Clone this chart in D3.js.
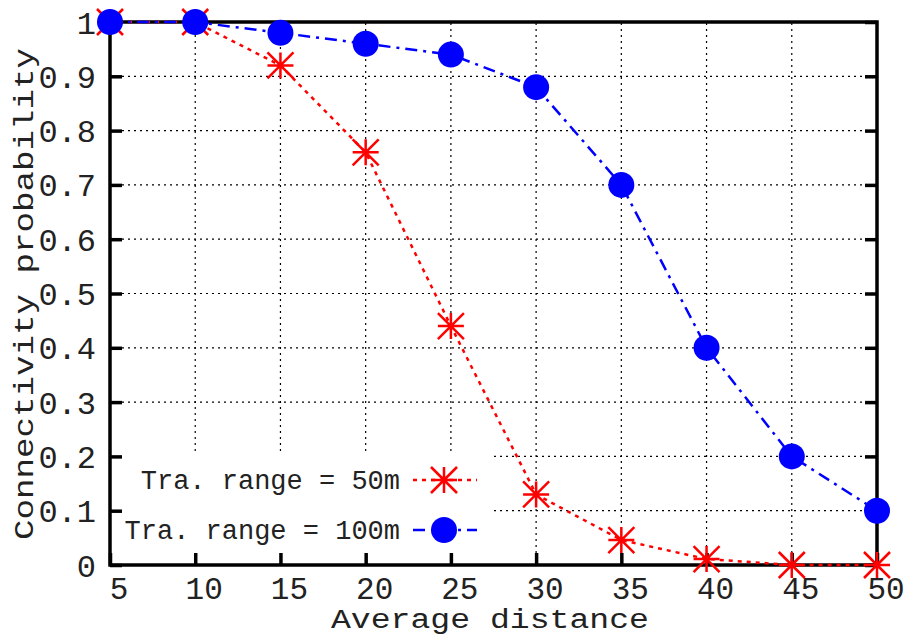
<!DOCTYPE html>
<html><head><meta charset="utf-8">
<script src="https://cdn.jsdelivr.net/npm/d3@7"></script>
<style>html,body{margin:0;padding:0;background:#fff;overflow:hidden}</style>
</head><body>
<svg id="chart" width="908" height="635"></svg>
<script>
const distances = [5, 10, 15, 20, 25, 30, 35, 40, 45, 50];
const range50 = [1, 1, 0.92, 0.76, 0.44, 0.13, 0.046, 0.011, 0, 0];
const range100 = [1, 1, 0.98, 0.96, 0.94, 0.88, 0.7, 0.4, 0.2, 0.1];
const xTicks = [5, 10, 15, 20, 25, 30, 35, 40, 45, 50];
const yTicks = [0, 0.1, 0.2, 0.3, 0.4, 0.5, 0.6, 0.7, 0.8, 0.9, 1];
const yTickLabels = ["0", "0.1", "0.2", "0.3", "0.4", "0.5", "0.6", "0.7", "0.8", "0.9", "1"];
const seriesNames = ["Tra. range = 50m", "Tra. range = 100m"];

const svg = d3.select("#chart");
const L = 110, R = 877, T = 22, B = 565;
const x = d3.scaleLinear().domain([5, 50]).range([L, R]);
const y = d3.scaleLinear().domain([0, 1]).range([B, T]);
const font = "'Liberation Mono', 'Courier New', monospace";

// grid
const grid = svg.append("g");
grid.selectAll(".vg").data(xTicks.slice(1, -1)).enter().append("line")
  .attr("x1", d => x(d)).attr("x2", d => x(d)).attr("y1", B).attr("y2", T)
  .attr("stroke", "#000").attr("stroke-width", 1.2).attr("stroke-dasharray", "2,4");
grid.selectAll(".hg").data(yTicks.slice(1, -1)).enter().append("line")
  .attr("x1", L).attr("x2", R).attr("y1", d => y(d)).attr("y2", d => y(d))
  .attr("stroke", "#000").attr("stroke-width", 1.2).attr("stroke-dasharray", "2,4");

// legend background (masks grid)
svg.append("rect").attr("x", L + 2).attr("y", 453).attr("width", 378).attr("height", 110).attr("fill", "#fff");

// axes with inward ticks
const axL = d3.axisLeft(y).tickValues(yTicks).tickSize(-12).tickFormat("");
const axR = d3.axisRight(y).tickValues(yTicks).tickSize(-12).tickFormat("");
const axB = d3.axisBottom(x).tickValues(xTicks).tickSize(-12).tickFormat("");
function styleAxis(g) {
  g.select(".domain").remove();
  g.selectAll(".tick line").attr("stroke", "#000").attr("stroke-width", 3.5);
}
svg.append("g").attr("transform", `translate(${L},0)`).call(axL).call(styleAxis);
svg.append("g").attr("transform", `translate(${R},0)`).call(axR).call(styleAxis);
svg.append("g").attr("transform", `translate(0,${B})`).call(axB).call(styleAxis);

// border
svg.append("rect").attr("x", L).attr("y", T).attr("width", R - L).attr("height", B - T)
  .attr("fill", "none").attr("stroke", "#000").attr("stroke-width", 3.5);

// tick labels
svg.selectAll(".yl").data(yTicks).enter().append("text")
  .attr("x", 96).attr("y", d => y(d)).attr("dy", "0.36em")
  .attr("text-anchor", "end").attr("font-family", font).attr("font-size", 32).attr("fill", "#222")
  .text((d, i) => yTickLabels[i]);
svg.selectAll(".xl").data(xTicks).enter().append("text")
  .attr("x", d => x(d) + 9).attr("y", 599)
  .attr("text-anchor", "middle").attr("font-family", font).attr("font-size", 31).attr("fill", "#222")
  .text(d => d);

// axis titles
svg.append("text").attr("x", 490).attr("y", 628).attr("text-anchor", "middle")
  .attr("font-family", font).attr("font-size", 27).attr("fill", "#222")
  .attr("textLength", 318).attr("lengthAdjust", "spacingAndGlyphs").text("Average distance");
svg.append("text").attr("transform", "translate(33,294) rotate(-90)").attr("text-anchor", "middle")
  .attr("font-family", font).attr("font-size", 28).attr("fill", "#222")
  .attr("textLength", 492).attr("lengthAdjust", "spacingAndGlyphs").text("Connectivity probability");

// markers
function asterisk(g, cx, cy) {
  const s = 13;
  const p = `M${cx - s},${cy}L${cx + s},${cy}M${cx},${cy - s}L${cx},${cy + s}M${cx - s},${cy - s}L${cx + s},${cy + s}M${cx - s},${cy + s}L${cx + s},${cy - s}`;
  g.append("path").attr("d", p).attr("stroke", "#ff0000").attr("stroke-width", 2.5).attr("fill", "none");
}
const line = d3.line().x(d => x(d[0])).y(d => y(d[1]));
const d50 = distances.map((d, i) => [d, range50[i]]);
const d100 = distances.map((d, i) => [d, range100[i]]);

svg.append("path").datum(d50).attr("d", line).attr("fill", "none").attr("stroke", "#ff0000")
  .attr("stroke-width", 2.5).attr("stroke-dasharray", "4,5");
const g50 = svg.append("g");
d50.forEach(d => asterisk(g50, x(d[0]), y(d[1])));

svg.append("path").datum(d100).attr("d", line).attr("fill", "none").attr("stroke", "#0000ff")
  .attr("stroke-width", 2.5).attr("stroke-dasharray", "12,6,3,6");
svg.selectAll(".c100").data(d100).enter().append("circle")
  .attr("cx", d => x(d[0])).attr("cy", d => y(d[1])).attr("r", 13).attr("fill", "#0000ff");

// legend
const leg = [{name: seriesNames[0], y: 480, color: "#ff0000", dash: "4,5", m: "a"},
             {name: seriesNames[1], y: 530, color: "#0000ff", dash: "12,6,3,6", m: "c"}];
leg.forEach(e => {
  svg.append("text").attr("x", 400).attr("y", e.y).attr("dy", "0.32em").attr("text-anchor", "end")
    .attr("font-family", font).attr("font-size", 27).attr("fill", "#222").text(e.name);
  svg.append("line").attr("x1", 413).attr("x2", 477).attr("y1", e.y).attr("y2", e.y)
    .attr("stroke", e.color).attr("stroke-width", 2.5).attr("stroke-dasharray", e.dash);
  if (e.m === "a") asterisk(svg, 444, e.y);
  else svg.append("circle").attr("cx", 444).attr("cy", e.y).attr("r", 13).attr("fill", e.color);
});
</script>
</body></html>
